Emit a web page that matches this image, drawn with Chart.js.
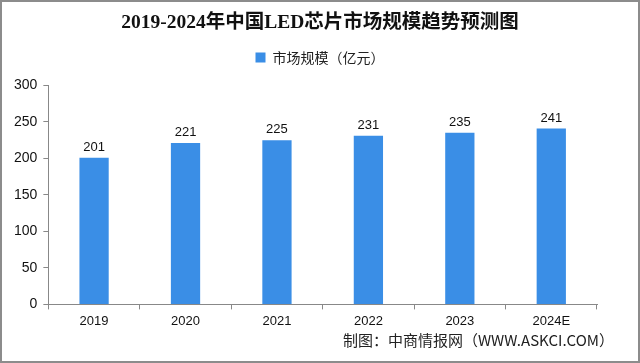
<!DOCTYPE html>
<html>
<head>
<meta charset="utf-8">
<script src="https://cdn.jsdelivr.net/npm/chart.js@4/dist/chart.umd.min.js"></script>
<style>
  html, body { margin: 0; padding: 0; background: #fff; }
  #wrap { width: 640px; height: 363px; position: relative; }
</style>
</head>
<body>
<div id="wrap"><canvas id="market-chart"></canvas></div>
<script>
// Chart data
var years = ['2019', '2020', '2021', '2022', '2023', '2024E'];
var marketSize = [201, 221, 225, 231, 235, 241];
var yTicks = [0, 50, 100, 150, 200, 250, 300];

var barColor = '#3a8ee6';
var cjkSans = '"Noto Sans CJK SC", "Noto Sans", sans-serif';
var serifFont = '"Liberation Serif", "DejaVu Serif", "Noto Sans CJK SC", serif';

// White background + thin gray frame
var framePlugin = {
  id: 'frame',
  beforeDraw: function (chart) {
    var ctx = chart.ctx;
    ctx.save();
    ctx.fillStyle = '#ffffff';
    ctx.fillRect(0, 0, chart.width, chart.height);
    ctx.restore();
  },
  afterDraw: function (chart) {
    var ctx = chart.ctx;
    ctx.save();
    ctx.strokeStyle = '#8c8c8c';
    ctx.lineWidth = 2;
    ctx.strokeRect(1, 1, chart.width - 2, chart.height - 2);
    ctx.restore();
  }
};

// Extra room under the legend
var legendSpacer = {
  id: 'legendSpacer',
  beforeInit: function (chart) {
    var origFit = chart.legend.fit;
    chart.legend.fit = function () {
      origFit.bind(chart.legend)();
      this.height += 11;
    };
  }
};

// Values above bars and the source line
var labelPlugin = {
  id: 'barLabels',
  afterDatasetsDraw: function (chart) {
    var ctx = chart.ctx;
    var meta = chart.getDatasetMeta(0);
    ctx.save();
    ctx.fillStyle = '#111';
    ctx.font = '13px "Liberation Sans", Arial, sans-serif';
    ctx.textAlign = 'center';
    ctx.textBaseline = 'bottom';
    meta.data.forEach(function (bar, i) {
      ctx.fillText(marketSize[i], bar.x, bar.y - 4);
    });

    ctx.font = '15px ' + cjkSans;
    ctx.fillStyle = '#222';
    ctx.textAlign = 'right';
    ctx.textBaseline = 'middle';
    ctx.fillText('制图：中商情报网（WWW.ASKCI.COM）', 614, 340);
    ctx.restore();
  }
};

var chartConfig = {
  type: 'bar',
  data: {
    labels: years,
    datasets: [{
      label: '市场规模（亿元）',
      data: marketSize,
      backgroundColor: barColor,
      borderWidth: 0,
      categoryPercentage: 1.0,
      barPercentage: 0.32
    }]
  },
  options: {
    responsive: true,
    maintainAspectRatio: false,
    animation: false,
    layout: {
      padding: { left: 8, right: 8, top: 10, bottom: 30 }
    },
    plugins: {
      title: {
        display: true,
        text: '2019-2024年中国LED芯片市场规模趋势预测图',
        color: '#111',
        font: { family: serifFont, size: 19.5, weight: 'bold' },
        padding: { top: 1, bottom: -7 }
      },
      legend: {
        display: true,
        position: 'top',
        labels: {
          color: '#222',
          boxWidth: 10,
          boxHeight: 10,
          padding: 23,
          font: { family: cjkSans, size: 14 }
        }
      },
      tooltip: { enabled: false }
    },
    scales: {
      x: {
        grid: {
          display: true,
          drawOnChartArea: false,
          drawTicks: true,
          tickLength: 5,
          color: '#888',
          offset: true
        },
        border: { display: true, color: '#888', width: 1 },
        ticks: {
          color: '#111',
          padding: 4,
          font: { family: '"Liberation Sans", Arial, sans-serif', size: 13 }
        }
      },
      y: {
        min: 0,
        max: 300,
        afterBuildTicks: function (axis) {
          axis.ticks = yTicks.map(function (v) { return { value: v }; });
        },
        grid: {
          display: true,
          drawOnChartArea: false,
          drawTicks: true,
          tickLength: 5,
          color: '#888'
        },
        border: { display: true, color: '#888', width: 1 },
        ticks: {
          color: '#111',
          padding: 6,
          font: { family: '"Liberation Sans", Arial, sans-serif', size: 14 }
        }
      },
      // empty right axis, only keeps the plot off the right edge
      yRight: {
        position: 'right',
        display: true,
        grid: { display: false },
        border: { display: false },
        ticks: { display: false },
        afterFit: function (axis) { axis.width = 35; }
      }
    }
  },
  plugins: [framePlugin, legendSpacer, labelPlugin]
};

var marketChart = new Chart(document.getElementById('market-chart'), chartConfig);
</script>
</body>
</html>
